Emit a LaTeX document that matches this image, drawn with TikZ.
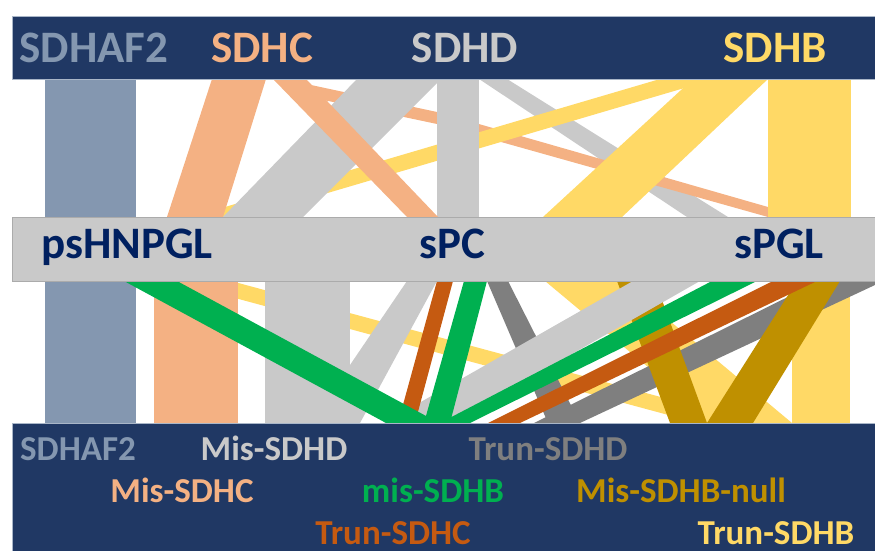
\documentclass[tikz,border=0pt]{standalone}
\usepackage{fontspec}
\setmainfont{Carlito}
\definecolor{navy}{HTML}{203864}
\definecolor{lbl}{HTML}{002060}
\definecolor{slate}{HTML}{8497B0}
\definecolor{salmon}{HTML}{F4B183}
\definecolor{lgray}{HTML}{C9C9C9}
\definecolor{ylw}{HTML}{FFD966}
\definecolor{grn}{HTML}{00B050}
\definecolor{org}{HTML}{C55A11}
\definecolor{dgray}{HTML}{7F7F7F}
\definecolor{gold}{HTML}{BF9000}
\tikzset{
  big/.style={font=\bfseries\fontsize{45bp}{50bp}\selectfont, anchor=base, inner sep=0pt, text depth=0pt},
  small/.style={font=\bfseries\fontsize{35bp}{40bp}\selectfont, anchor=base, inner sep=0pt, text depth=0pt},
  navyband/.style={fill=navy, draw=slate!70, line width=0.6bp},
  grayband/.style={fill=lgray, draw=lgray!85!black, line width=0.4bp}
}
\begin{document}
\begin{tikzpicture}[x=1bp,y=-1bp]
\useasboundingbox (0,0) rectangle (875,551);
% ---------- upper flows ----------
\fill[slate] (45,79) rectangle (136,423);
\fill[lgray] (479,79) -- (507,79) -- (728,217) -- (687,217) -- cycle;
\fill[salmon] (283,79) -- (437,112) -- (768,207) -- (790,217) -- (768,217) -- (437,124) -- (300,95) -- (300,79) -- cycle;
\fill[ylw] (660,79) -- (715,79) -- (246,217) -- (191,217) -- cycle;
\fill[lgray] (357,79) -- (441,79) -- (303,217) -- (223,217) -- cycle;
\fill[lgray] (437,79) rectangle (479,217);
\fill[salmon] (212,79) -- (266,79) -- (223,217) -- (167,217) -- cycle;
\fill[salmon] (273,79) -- (306,79) -- (438,217) -- (407,217) -- cycle;
\fill[ylw] (693,79) -- (768,79) -- (622,217) -- (543,217) -- cycle;
\fill[ylw] (768,79) rectangle (851,217);
% ---------- lower flows ----------
\fill[ylw] (172,281) -- (231,281) -- (757,423) -- (698,423) -- cycle;
\fill[ylw] (545,281) -- (622,281) -- (792,423) -- (715,423) -- cycle;
\fill[ylw] (792,281) rectangle (850,423);
\fill[dgray] (487,281) -- (508,281) -- (580,423) -- (548,423) -- cycle;
\fill[dgray] (820,281) -- (875,281) -- (875,285) -- (580,423) -- (534,423) -- cycle;
\fill[gold] (617,281) -- (655,281) -- (707,423) -- (670,423) -- cycle;
\fill[gold] (797,281) -- (840,281) -- (753,423) -- (707,423) -- cycle;
\fill[salmon] (154,281) rectangle (238,423);
\fill[lgray] (265,281) rectangle (350,423);
\fill[lgray] (407,281) -- (437,281) -- (360,423) -- (350,423) -- (350,365) -- cycle;
\fill[lgray] (633,281) -- (700,281) -- (451,423) -- (384,423) -- cycle;
\fill[org] (437,281) -- (453,281) -- (415,423) -- (398,423) -- cycle;
\fill[org] (773,281) -- (817,281) -- (520,423) -- (488,423) -- cycle;
\fill[grn] (124,281) -- (177,281) -- (439,423) -- (386,423) -- cycle;
\fill[grn] (464,281) -- (487,281) -- (450,423) -- (424,423) -- cycle;
\fill[grn] (712,281) -- (757,281) -- (470,423) -- (440,423) -- cycle;
% ---------- bands ----------
\path[navyband] (12,16) rectangle (875,79);
\path[grayband] (12,217) rectangle (875,281);
\path[navyband] (12,423) rectangle (875,551);
% ---------- labels ----------
\node[big, text=slate]  (tSDHAF2) at (94,63)  {SDHAF2};
\node[big, text=salmon] (tSDHC)   at (262,63) {SDHC};
\node[big, text=lgray]  (tSDHD)   at (465,63) {SDHD};
\node[big, text=ylw]    (tSDHB)   at (775,63) {SDHB};
\node[big, text=lbl] (mPS)  at (127,259) {psHNPGL};
\node[big, text=lbl] (mPC)  at (452,259) {sPC};
\node[big, text=lbl] (mPGL) at (779,259) {sPGL};
\node[small, text=slate]  (bSDHAF2) at (78,460)  {SDHAF2};
\node[small, text=lgray]  (bMisD)   at (274,460) {Mis-SDHD};
\node[small, text=dgray]  (bTrunD)  at (548,460) {Trun-SDHD};
\node[small, text=salmon] (bMisC)   at (182,502) {Mis-SDHC};
\node[small, text=grn]    (bmisB)   at (433,502) {mis-SDHB};
\node[small, text=gold]   (bMisBn)  at (681,502) {Mis-SDHB-null};
\node[small, text=org]    (bTrunC)  at (393,544) {Trun-SDHC};
\node[small, text=ylw]    (bTrunB)  at (776,544) {Trun-SDHB};
\end{tikzpicture}
\end{document}
